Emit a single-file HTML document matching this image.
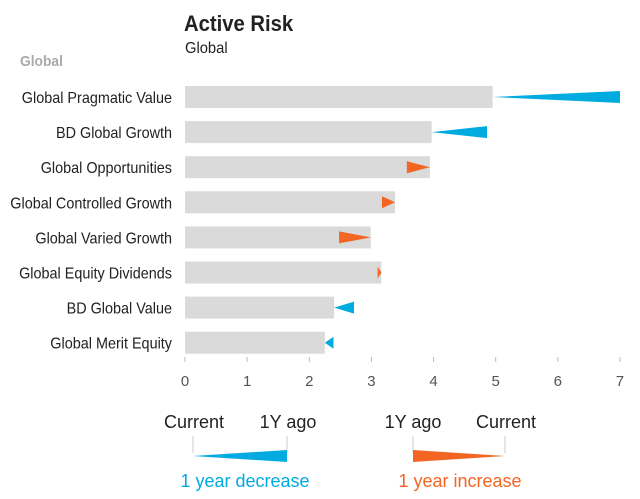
<!DOCTYPE html>
<html><head><meta charset="utf-8"><style>
body{margin:0;background:#fff;}
svg{display:block;font-family:"Liberation Sans Narrow","Liberation Sans",sans-serif;}
</style></head><body>
<svg id="chart" width="640" height="499">
<text class="cond" x="184" y="31" font-size="22" font-weight="bold" fill="#222">Active Risk</text>
<text class="cond" x="185" y="53" font-size="16" fill="#222">Global</text>
<text class="cond" x="20" y="66" font-size="15" font-weight="bold" fill="#aaa">Global</text>
<g id="bars"></g>
<g id="axis"></g>
<g>
<text x="194" y="428" font-size="18" fill="#222" text-anchor="middle">Current</text>
<text x="288" y="428" font-size="18" fill="#222" text-anchor="middle">1Y ago</text>
<line x1="193" y1="436" x2="193" y2="453" stroke="#ccc"/>
<line x1="287" y1="436" x2="287" y2="453" stroke="#ccc"/>
<polygon points="193,456 287,450 287,462" fill="#00ABDF"/>
<text x="245" y="487" font-size="18" fill="#00ABDF" text-anchor="middle">1 year decrease</text>
</g>
<g>
<text x="413" y="428" font-size="18" fill="#222" text-anchor="middle">1Y ago</text>
<text x="506" y="428" font-size="18" fill="#222" text-anchor="middle">Current</text>
<line x1="413" y1="436" x2="413" y2="453" stroke="#ccc"/>
<line x1="505" y1="436" x2="505" y2="453" stroke="#ccc"/>
<polygon points="413,450 413,462 505,456" fill="#F26522"/>
<text x="460" y="487" font-size="18" fill="#F26522" text-anchor="middle">1 year increase</text>
</g>
</svg>
<script>
const categories=["Global Pragmatic Value","BD Global Growth","Global Opportunities","Global Controlled Growth","Global Varied Growth","Global Equity Dividends","BD Global Value","Global Merit Equity"];
const current=[4.95,3.97,3.94,3.38,2.99,3.16,2.4,2.25];
const yearAgo=[7.0,4.86,3.57,3.17,2.48,3.1,2.72,2.39];
const ticks=[0,1,2,3,4,5,6,7];
const NS="http://www.w3.org/2000/svg";
const x=v=>185+v*62.14;
const y=i=>97+i*35.1;
function mk(tag,attrs,parent){const e=document.createElementNS(NS,tag);for(const k in attrs)e.setAttribute(k,attrs[k]);parent.appendChild(e);return e;}
const bars=document.getElementById('bars');
categories.forEach((c,i)=>{
  const cy=y(i);
  const t=mk('text',{x:172,y:cy+6,'font-size':16,fill:'#222','text-anchor':'end','class':'cond lab'},bars);
  t.textContent=c;
  
  
  const r=mk('rect',{x:x(0),y:cy-11,width:x(current[i])-x(0),height:22,fill:'#dadada'},bars);
  
  
  const col=yearAgo[i]>current[i]?'#00ABDF':'#F26522';
  const w=mk('polygon',{points:`${x(current[i])},${cy} ${x(yearAgo[i])},${cy-6} ${x(yearAgo[i])},${cy+6}`,fill:col},bars);
  
  
});
const ax=document.getElementById('axis');
ticks.forEach(v=>{
  const l=mk('line',{x1:x(v),x2:x(v),y1:357,y2:362,stroke:'#bbb'},ax);
  
  
  const t=mk('text',{x:x(v),y:386,'font-size':15,fill:'#555','text-anchor':'middle'},ax);
  t.textContent=v;
  
  
});
document.querySelectorAll('text.cond').forEach(t=>{
  const w=t.getComputedTextLength();
  const f=t.classList.contains('lab')?0.9:0.92;
  if(w>12){t.setAttribute('textLength',(w*f).toFixed(1));t.setAttribute('lengthAdjust','spacingAndGlyphs');}
});
</script>
</body></html>
